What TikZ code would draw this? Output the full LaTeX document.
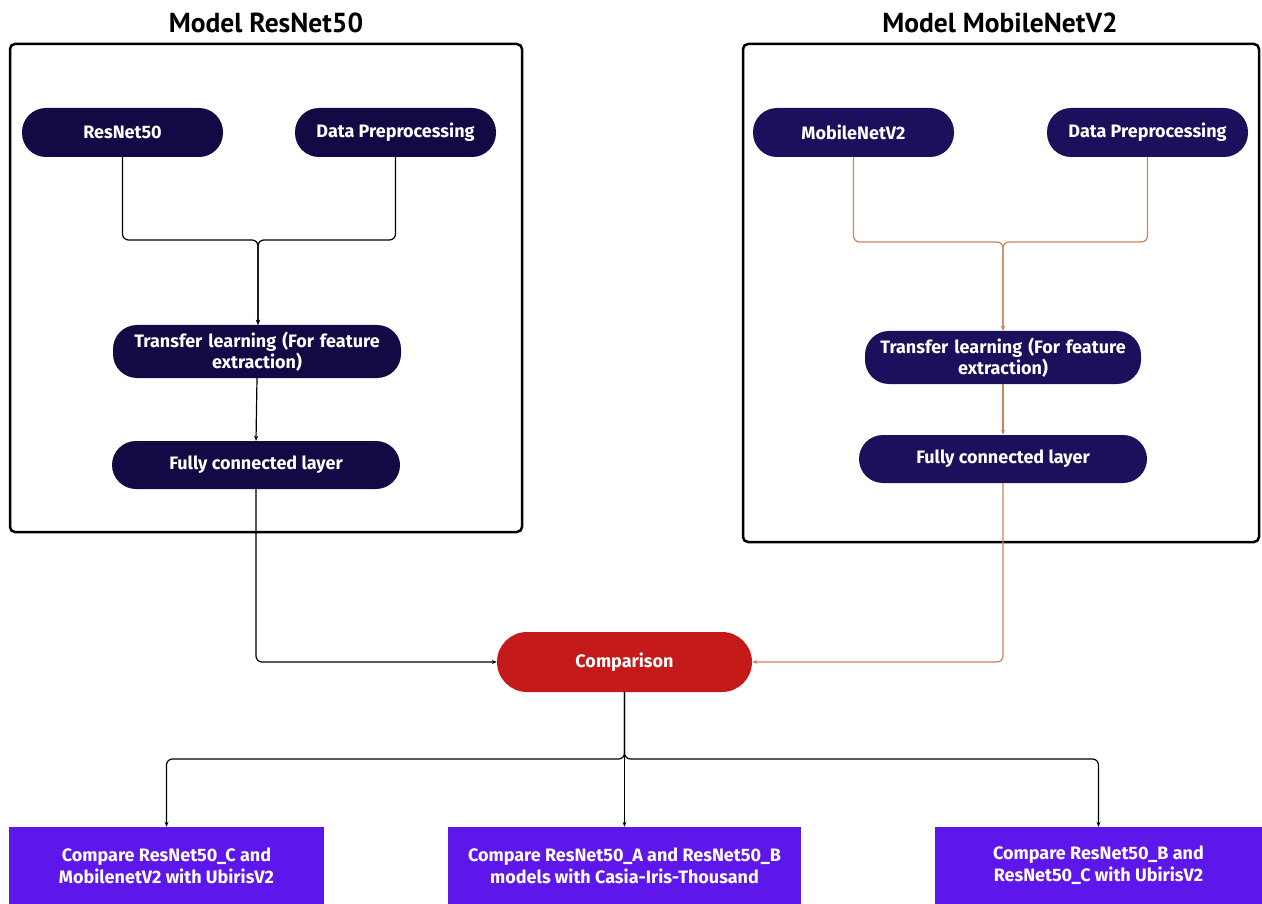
\documentclass[tikz,border=0pt]{standalone}
\usepackage{fontspec}
\setmainfont{Fira Sans}
\newfontfamily\headfont{PT Sans}
\usetikzlibrary{arrows.meta}
\definecolor{navyA}{HTML}{130A45}
\definecolor{navyB}{HTML}{1C0F5C}
\definecolor{cmpred}{HTML}{C41A1A}
\definecolor{outpurple}{HTML}{5E17EB}
\definecolor{linkbrown}{HTML}{C8845C}
\tikzset{
  pill/.style={draw=none, fill=#1, text=white, font=\fontsize{18}{21}\selectfont\bfseries,
    rounded corners=24pt, inner sep=0pt, align=center},
  outbox/.style={fill=outpurple, text=white, font=\fontsize{18}{22}\selectfont\bfseries,
    inner sep=0pt, align=center},
  frame/.style={draw=black, line width=2.5pt, rounded corners=5pt},
  headline/.style={font=\headfont\fontsize{27.5}{30}\selectfont\bfseries, text=black},
  link/.style={line width=1.2pt, rounded corners=6pt, -{Stealth[length=5pt,width=4pt]}},
}
\begin{document}
\begin{tikzpicture}[x=1pt,y=-1pt]
\useasboundingbox (0,0) rectangle (1262,904);

% group frames and headings
\draw[frame] (10,44) rectangle (522,532);
\draw[frame] (743,44) rectangle (1259,542);
\node[headline] (h1) at (266,23) {Model ResNet50};
\node[headline] (h2) at (1000,23) {Model MobileNetV2};

% ResNet50 branch
\node[pill=navyA, minimum width=201pt, minimum height=49pt] (r1) at (122.5,132.5) {ResNet50};
\node[pill=navyA, minimum width=201pt, minimum height=49pt] (r2) at (395.5,132.5) {Data Preprocessing};
\node[pill=navyA, minimum width=288pt, minimum height=53pt, text width=276pt] (r3) at (257,351.5) {Transfer learning (For feature\\extraction)};
\node[pill=navyA, minimum width=288pt, minimum height=48pt] (r4) at (256,465) {Fully connected layer};

% MobileNetV2 branch
\node[pill=navyB, minimum width=201pt, minimum height=49pt] (m1) at (853.5,132.5) {MobileNetV2};
\node[pill=navyB, minimum width=201pt, minimum height=49pt] (m2) at (1147.5,132.5) {Data Preprocessing};
\node[pill=navyB, minimum width=276pt, minimum height=53pt, text width=270pt] (m3) at (1003,357.5) {Transfer learning (For feature\\extraction)};
\node[pill=navyB, minimum width=288pt, minimum height=48pt] (m4) at (1003,459) {Fully connected layer};

% comparison
\node[pill=cmpred, rounded corners=30pt, minimum width=255pt, minimum height=60pt] (cmp) at (624.5,662) {Comparison};

% outcomes
\node[outbox, minimum width=315pt, minimum height=77pt] (o1) at (166.5,865.5) {Compare ResNet50\_C and\\MobilenetV2 with UbirisV2};
\node[outbox, minimum width=353pt, minimum height=77pt] (o2) at (624.5,865.5) {Compare ResNet50\_A and ResNet50\_B\\models with Casia-Iris-Thousand};
\node[outbox, minimum width=327pt, minimum height=77pt] (o3) at (1098.5,865.5) {Compare ResNet50\_B and\\ResNet50\_C with UbirisV2};

% ResNet50 connectors
\coordinate (jr) at (258,240);
\draw[link] (r1.south) -- (r1.south |- jr) -- (jr) -- (r3.north -| jr);
\draw[link] (r2.south) -- (r2.south |- jr) -- (jr) -- (r3.north -| jr);
\draw[link] (r3.south) -- (r4.north);
\draw[link] (r4.south) |- (cmp.west);

% MobileNetV2 connectors
\coordinate (jm) at (1003,242);
\draw[link, draw=linkbrown] (m1.south) -- (m1.south |- jm) -- (jm) -- (m3.north);
\draw[link, draw=linkbrown] (m2.south) -- (m2.south |- jm) -- (jm) -- (m3.north);
\draw[link, draw=linkbrown] (m3.south) -- (m4.north);
\draw[link, draw=linkbrown] (m4.south) |- (cmp.east);

% outcome connectors
\coordinate (jo) at (624.5,759);
\draw[link] (cmp.south) -- (jo) -- (jo -| o1.north) -- (o1.north);
\draw[link] (cmp.south) -- (o2.north);
\draw[link] (cmp.south) -- (jo) -- (jo -| o3.north) -- (o3.north);
\end{tikzpicture}
\end{document}
